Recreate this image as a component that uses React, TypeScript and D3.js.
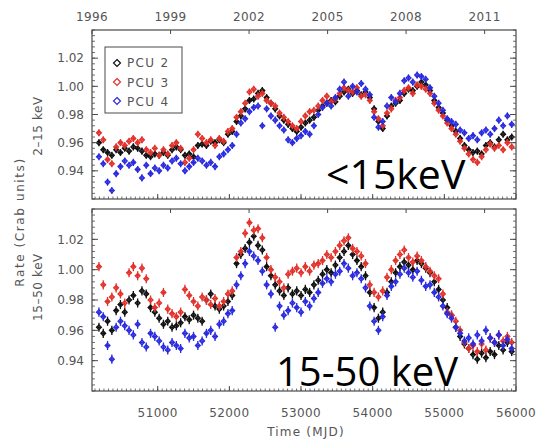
import React from 'react';
import * as d3 from 'd3';

// Time grid (MJD)
const mjd = [
  50180,50240,50300,50360,50420,50480,50540,50600,50660,50720,50780,50840,50900,50960,51020,51080,51140,51200,51260,51320,51380,51440,51500,51560,51620,51680,51740,51800,51860,51920,51980,
  52040,52100,52160,52220,52280,52340,52400,52460,52520,52580,52640,52700,52760,52820,52880,52940,53000,53060,53120,53180,53240,53300,53360,53420,53480,53540,53600,53660,53720,53780,53840,53900,53960,
  54020,54080,54140,54200,54260,54320,54380,54440,54500,54560,54620,54680,54740,54800,54860,54920,54980,55040,55100,55160,55220,55280,55340,55400,55460,55520,55580,55640,55700,55760,55820,55880,55940,
];

// 2-15 keV rates (Crab units)
const soft2 = [
  0.960,0.955,0.953,0.951,0.955,0.953,0.956,0.954,0.957,0.956,0.954,0.951,0.950,0.952,0.951,0.953,0.951,0.955,0.957,0.955,0.951,0.952,0.950,0.958,0.959,0.958,0.961,0.960,0.962,0.960,0.966,
  0.968,0.975,0.979,0.984,0.990,0.991,0.995,0.997,0.992,0.988,0.984,0.979,0.976,0.973,0.970,0.968,0.971,0.974,0.976,0.978,0.983,0.986,0.988,0.990,0.989,0.993,0.996,0.998,0.995,0.997,0.994,0.996,0.992,
  0.984,0.975,0.970,0.979,0.986,0.988,0.990,0.995,0.998,0.997,1.000,1.003,1.001,0.997,0.990,0.985,0.981,0.976,0.972,0.968,0.963,0.958,0.955,0.953,0.954,0.952,0.958,0.960,0.957,0.962,0.966,0.962,0.964,
];
const soft3 = [
  0.967,0.962,0.948,0.945,0.957,0.960,0.958,0.961,0.963,0.960,0.962,0.955,0.953,0.956,0.951,0.955,0.952,0.958,0.960,0.956,0.946,0.949,0.955,0.966,0.963,0.960,0.962,0.958,0.963,0.961,0.968,
  0.970,0.978,0.982,0.988,0.996,0.998,0.993,0.995,0.990,0.988,0.986,0.981,0.978,0.975,0.972,0.970,0.975,0.979,0.982,0.983,0.986,0.990,0.993,0.989,0.991,0.995,0.999,0.997,0.996,0.999,0.993,0.994,0.990,
  0.982,0.977,0.972,0.981,0.984,0.990,0.992,0.997,0.999,0.995,1.001,1.000,0.998,0.995,0.988,0.983,0.979,0.974,0.970,0.966,0.961,0.956,0.952,0.948,0.946,0.950,0.955,0.959,0.956,0.958,0.955,0.960,0.957,
];
const soft4 = [
  0.950,0.945,0.932,0.926,0.938,0.943,0.947,0.944,0.946,0.941,0.935,0.944,0.938,0.942,0.940,0.944,0.942,0.947,0.949,0.945,0.940,0.943,0.946,0.949,0.947,0.944,0.946,0.943,0.950,0.952,0.955,
  0.958,0.966,0.974,0.977,0.982,0.985,0.986,0.972,0.984,0.979,0.976,0.972,0.969,0.962,0.960,0.963,0.965,0.968,0.966,0.972,0.980,0.985,0.988,0.986,0.992,0.998,1.003,0.993,1.000,0.996,1.002,0.998,0.994,
  0.978,0.971,0.975,0.986,0.992,0.989,0.995,1.004,1.006,1.003,1.008,1.007,1.005,0.999,0.993,0.988,0.983,0.977,0.975,0.973,0.969,0.967,0.963,0.965,0.962,0.967,0.969,0.966,0.970,0.976,0.972,0.979,0.973,
];

// 15-50 keV rates (Crab units)
const hard2 = [
  0.962,0.958,0.966,0.960,0.973,0.977,0.972,0.980,0.983,0.978,0.986,0.984,0.975,0.972,0.968,0.964,0.966,0.962,0.963,0.965,0.969,0.967,0.970,0.968,0.966,0.980,0.984,0.976,0.974,0.976,0.979,
  0.983,1.004,1.010,1.014,1.018,1.022,1.016,1.013,1.002,0.996,0.990,0.986,0.983,0.988,0.984,0.986,0.983,0.987,0.985,0.990,0.993,0.997,1.000,0.998,1.003,1.008,1.012,1.016,1.010,1.006,1.002,0.996,0.985,
  0.975,0.968,0.972,0.985,0.992,0.998,1.002,1.005,1.003,1.000,1.006,1.004,1.001,0.998,0.992,0.987,0.980,0.975,0.970,0.962,0.956,0.951,0.948,0.944,0.941,0.945,0.942,0.946,0.944,0.950,0.947,0.952,0.946,
];
const hard3 = [
  1.002,0.990,0.979,0.982,0.988,0.984,0.978,0.998,1.002,0.996,1.001,0.994,0.980,0.975,0.978,0.985,0.974,0.971,0.969,0.972,0.987,0.983,0.979,0.976,0.982,0.980,0.977,0.981,0.976,0.979,0.984,
  0.986,1.008,1.012,1.024,1.031,1.026,1.027,1.021,1.008,1.000,0.995,0.992,0.988,0.997,0.999,1.001,0.998,1.002,0.999,1.003,1.004,1.006,1.010,1.008,1.012,1.016,1.019,1.021,1.014,1.012,1.009,1.004,0.990,
  0.985,0.982,0.986,0.995,1.000,1.006,1.010,1.013,1.008,1.005,1.009,1.006,1.002,0.999,0.996,0.994,0.984,0.972,0.970,0.966,0.960,0.952,0.948,0.950,0.946,0.951,0.947,0.955,0.952,0.957,0.953,0.956,0.952,
];
const hard4 = [
  0.972,0.969,0.950,0.941,0.962,0.966,0.963,0.960,0.957,0.964,0.952,0.949,0.958,0.956,0.953,0.949,0.947,0.952,0.950,0.948,0.958,0.955,0.956,0.950,0.953,0.958,0.960,0.956,0.964,0.966,0.971,
  0.973,0.990,0.996,1.004,1.012,1.009,1.006,0.999,0.990,0.984,0.962,0.976,0.970,0.973,0.978,0.975,0.972,0.979,0.976,0.981,0.985,0.991,0.994,0.992,0.997,0.999,1.004,1.001,0.996,0.998,0.994,0.988,0.976,
  0.966,0.960,0.969,0.983,0.989,0.992,0.997,1.001,0.998,0.995,0.999,0.993,0.989,0.990,0.985,0.982,0.976,0.971,0.968,0.962,0.958,0.953,0.955,0.951,0.957,0.953,0.960,0.955,0.952,0.957,0.950,0.954,0.948,
];

const mjdTicks = [51000, 52000, 53000, 54000, 55000, 56000];
const yearLabels = ['1996', '1999', '2002', '2005', '2008', '2011'];
const yearMjd = [50083, 51179, 52275, 53371, 54466, 55562];
const rateTicks = [0.94, 0.96, 0.98, 1.0, 1.02];
const pcuNames = ['PCU 2', 'PCU 3', 'PCU 4'];
const softErr = 0.0025;
const hardErr = 0.003;

const COLORS = ['#111111', '#e3312b', '#2a2ae0'];
const AXIS = '#4a4a4a';
const TEXT = '#555555';
const FONT = 'DejaVu Sans, Verdana, sans-serif';

const x = d3.scaleLinear().domain([50083, 56000]).range([92, 516]);
const yTop = d3.scaleLinear().domain([0.92, 1.04]).range([199, 30]);
const yBot = d3.scaleLinear().domain([0.92, 1.04]).range([391, 209]);

function diamond(cx: number, cy: number, r: number) {
  const p = d3.path();
  p.moveTo(cx, cy - r);
  p.lineTo(cx + r, cy);
  p.lineTo(cx, cy + r);
  p.lineTo(cx - r, cy);
  p.closePath();
  return p.toString();
}

function Panel({ y, series, err }: { y: d3.ScaleLinear<number, number>; series: number[][]; err: number }) {
  const [x0, x1] = x.range();
  const [yb, yt] = y.range();
  const minorY = d3.range(0.92, 1.04001, 0.004);
  const minorX = d3.range(50000, 56001, 62.5).filter((m) => m > 50083 && m < 56000);
  return (
    <g>
      {series.map((vals, si) => (
        <g key={si} stroke={COLORS[si]} fill="none" strokeWidth={1.3}>
          {vals.map((v, i) => {
            const cx = x(mjd[i]);
            const cy = y(v);
            return (
              <g key={i}>
                <line x1={cx} x2={cx} y1={y(v - err)} y2={y(v + err)} />
                <line x1={cx - 2.2} x2={cx + 2.2} y1={cy} y2={cy} />
                <path d={diamond(cx, cy, 2.4)} />
              </g>
            );
          })}
        </g>
      ))}
      <rect x={x0} y={yt} width={x1 - x0} height={yb - yt} fill="none" stroke={AXIS} strokeWidth={1.2} />
      {minorY.map((v, i) => (
        <g key={'my' + i} stroke={AXIS} strokeWidth={0.8}>
          <line x1={x0} x2={x0 + 3} y1={y(v)} y2={y(v)} />
          <line x1={x1} x2={x1 - 3} y1={y(v)} y2={y(v)} />
        </g>
      ))}
      {rateTicks.map((v) => (
        <g key={'Y' + v} stroke={AXIS} strokeWidth={1}>
          <line x1={x0} x2={x0 + 6} y1={y(v)} y2={y(v)} />
          <line x1={x1} x2={x1 - 6} y1={y(v)} y2={y(v)} />
        </g>
      ))}
      {rateTicks.map((v) => (
        <text key={'yl' + v} x={84} y={y(v)} dy="0.36em" textAnchor="end" fontFamily={FONT} fontSize={12} fill={TEXT}>
          {d3.format('.2f')(v)}
        </text>
      ))}
      {minorX.map((m, i) => (
        <line key={'mx' + i} x1={x(m)} x2={x(m)} y1={yb} y2={yb - 2.5} stroke={AXIS} strokeWidth={0.8} />
      ))}
      {mjdTicks.map((m) => (
        <line key={'bx' + m} x1={x(m)} x2={x(m)} y1={yb} y2={yb - 5} stroke={AXIS} strokeWidth={1} />
      ))}
      {yearMjd.map((m) => (
        <line key={'tx' + m} x1={x(m)} x2={x(m)} y1={yt} y2={yt + 4} stroke={AXIS} strokeWidth={1} />
      ))}
    </g>
  );
}

export default function App() {
  return (
    <svg width={548} height={444} style={{ position: 'absolute', left: 0, top: 0, background: '#fff' }}>
      <rect width={548} height={444} fill="#fff" />
      <Panel y={yTop} series={[soft2, soft3, soft4]} err={softErr} />
      <Panel y={yBot} series={[hard2, hard3, hard4]} err={hardErr} />

      {yearLabels.map((lab, i) => (
        <text key={lab} x={x(yearMjd[i])} y={21} textAnchor="middle" fontFamily={FONT} fontSize={12} fill={TEXT} letterSpacing={0.4}>
          {lab}
        </text>
      ))}
      {mjdTicks.map((m) => (
        <text key={m} x={x(m)} y={417} textAnchor="middle" fontFamily={FONT} fontSize={12} fill={TEXT} letterSpacing={0.4}>
          {m}
        </text>
      ))}
      <text x={306} y={436} textAnchor="middle" fontFamily={FONT} fontSize={12} fill={TEXT} letterSpacing={1.2}>
        Time (MJD)
      </text>

      <text transform="translate(24,222) rotate(-90)" textAnchor="middle" fontFamily={FONT} fontSize={12} fill={TEXT} letterSpacing={1.6}>
        Rate (Crab units)
      </text>
      <text transform="translate(42,126) rotate(-90)" textAnchor="middle" fontFamily={FONT} fontSize={12} fill={TEXT} letterSpacing={0.6}>
        2–15 keV
      </text>
      <text transform="translate(42,287) rotate(-90)" textAnchor="middle" fontFamily={FONT} fontSize={12} fill={TEXT} letterSpacing={0.6}>
        15–50 keV
      </text>

      <rect x={105} y={47} width={77} height={66} fill="#fff" stroke={AXIS} strokeWidth={1} />
      {pcuNames.map((name, i) => (
        <g key={name}>
          <path d={diamond(117, 63 + i * 19, 3.5)} fill="none" stroke={COLORS[i]} strokeWidth={1.2} />
          <text x={127} y={67 + i * 19.5} fontFamily={FONT} fontSize={12} fill={TEXT} letterSpacing={1.3}>
            {name}
          </text>
        </g>
      ))}

      <text x={326} y={189} fontFamily="Open Sans, Noto Sans, sans-serif" fontSize={41} fill="#000">
        &lt;15keV
      </text>
      <text x={276} y={386} fontFamily="Open Sans, Noto Sans, sans-serif" fontSize={40} fill="#000">
        15-50 keV
      </text>
    </svg>
  );
}
